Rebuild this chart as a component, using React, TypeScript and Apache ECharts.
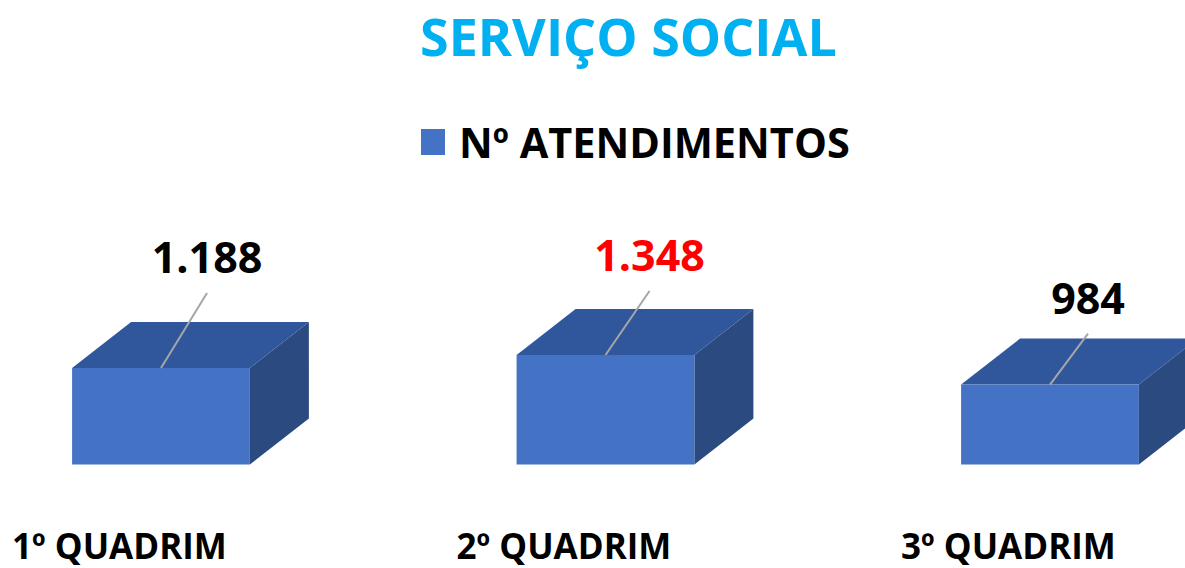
import React, { useEffect, useRef } from "react";
import * as echarts from "echarts";

// ---- data ----
const titleText = "SERVIÇO SOCIAL";
const seriesName = "Nº ATENDIMENTOS";
const categories = ["1º QUADRIM", "2º QUADRIM", "3º QUADRIM"];
const atendimentos = [1188, 1348, 984];

// ---- layout / style constants ----
const FONT = "'Open Sans', 'DejaVu Sans', sans-serif";
const FRONT = "#4472C4";
const TOP = "#30579B";
const SIDE = "#2B4A80";
const DEPTH_X = 59;
const DEPTH_Y = -46;
const X_MIN = -0.3622;
const X_MAX = 2.3037;
const labelOffsets = [
  [46, -111],
  [44, -100],
  [38, -87],
];

function formatPt(v: number): string {
  const s = String(Math.round(v));
  return s.replace(/\B(?=(\d{3})+(?!\d))/g, ".");
}

export default function App() {
  const ref = useRef<HTMLDivElement>(null);

  useEffect(() => {
    document.body.style.margin = "0";
    if (!ref.current) return;
    const chart = echarts.init(ref.current, null, { renderer: "svg" });
    const maxVal = Math.max(...atendimentos);

    const option: any = {
      animation: false,
      backgroundColor: "#ffffff",
      title: {
        text: titleText,
        left: 420,
        top: 7,
        padding: 0,
        textStyle: {
          fontSize: 52,
          lineHeight: 56,
          fontWeight: "bold",
          fontFamily: FONT,
          color: "#00B0F0",
        },
      },
      legend: {
        left: 421,
        top: 121,
        padding: 0,
        icon: "rect",
        itemWidth: 24,
        itemHeight: 26,
        textStyle: {
          fontSize: 41.5,
          fontWeight: "bold",
          fontFamily: FONT,
          color: "#000000",
          padding: [0, 0, 0, 9],
        },
        data: [{ name: seriesName, itemStyle: { color: FRONT } }],
      },
      grid: {
        left: 0,
        right: 0,
        bottom: 103.5,
        top: 334.5,
        containLabel: false,
      },
      xAxis: {
        type: "value",
        min: X_MIN,
        max: X_MAX,
        show: false,
      },
      yAxis: {
        type: "value",
        min: 0,
        max: 1600,
        show: false,
      },
      series: [
        {
          type: "custom",
          name: seriesName,
          itemStyle: { color: FRONT },
          data: atendimentos.map((v, i) => [i, v]),
          encode: { x: 0, y: 1 },
          renderItem: (params: any, api: any) => {
            const idx = params.dataIndex;
            const v = api.value(1);
            const base = api.coord([idx, 0]);
            const top = api.coord([idx, v]);
            const bw = api.size([1, 0])[0] * 0.4;
            const x0 = base[0] - bw / 2;
            const x1 = base[0] + bw / 2;
            const yb = base[1];
            const yt = top[1];
            const off = labelOffsets[idx] || [44, -100];
            const lx = base[0] + off[0];
            const ly = yt + off[1];
            return {
              type: "group",
              children: [
                {
                  type: "polygon",
                  shape: {
                    points: [
                      [x1, yt],
                      [x1 + DEPTH_X, yt + DEPTH_Y],
                      [x1 + DEPTH_X, yb + DEPTH_Y],
                      [x1, yb],
                    ],
                  },
                  style: { fill: SIDE },
                },
                {
                  type: "polygon",
                  shape: {
                    points: [
                      [x0, yt],
                      [x1, yt],
                      [x1 + DEPTH_X, yt + DEPTH_Y],
                      [x0 + DEPTH_X, yt + DEPTH_Y],
                    ],
                  },
                  style: { fill: TOP },
                },
                {
                  type: "rect",
                  shape: { x: x0, y: yt, width: bw, height: yb - yt },
                  style: { fill: FRONT },
                },
                {
                  type: "line",
                  shape: { x1: base[0], y1: yt, x2: lx, y2: ly + 36 },
                  style: { stroke: "#A6A6A6", lineWidth: 2 },
                },
                {
                  type: "text",
                  x: lx,
                  y: ly,
                  style: {
                    text: formatPt(v),
                    fill: v === maxVal ? "#FF0000" : "#000000",
                    fontSize: 43,
                    fontWeight: "bold",
                    fontFamily: FONT,
                    align: "center",
                    verticalAlign: "middle",
                  },
                },
                {
                  type: "text",
                  x: x0 - 60,
                  y: 545,
                  style: {
                    text: categories[idx],
                    fill: "#000000",
                    fontSize: 35,
                    lineHeight: 34,
                    fontWeight: "bold",
                    fontFamily: FONT,
                    align: "left",
                    verticalAlign: "middle",
                  },
                },
              ],
            };
          },
        },
      ],
    };

    chart.setOption(option);
    return () => chart.dispose();
  }, []);

  return (
    <div
      ref={ref}
      style={{ width: 1185, height: 568, overflow: "hidden", background: "#fff" }}
    />
  );
}
